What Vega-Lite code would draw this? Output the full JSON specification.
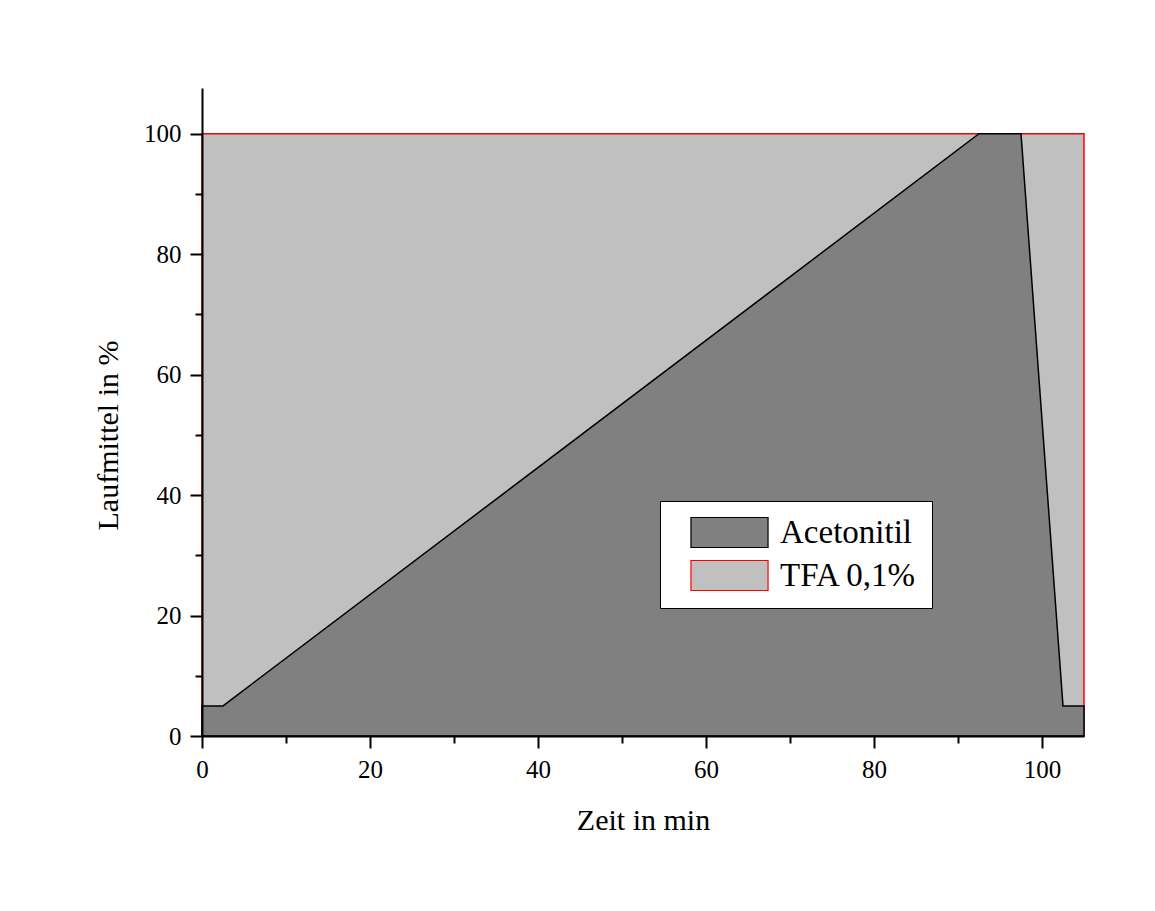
{
  "$schema": "https://vega.github.io/schema/vega-lite/v6.json",
  "autosize": {"type": "none"},
  "padding": {"left": 202, "top": 88, "right": 71, "bottom": 175},
  "width": 882,
  "height": 648,
  "background": "white",
  "config": {
    "font": "Liberation Serif",
    "view": {"stroke": null},
    "axis": {"grid": false, "domainColor": "black", "domainWidth": 2, "tickColor": "black", "tickWidth": 2, "labelColor": "black", "titleColor": "black", "labelFont": "Liberation Serif", "titleFont": "Liberation Serif", "labelFontSize": 25, "titleFontSize": 30, "titleFontWeight": "normal"}
  },
  "data": {
    "values": [
      {"t": 0, "v": 100, "series": "TFA 0,1%"},
      {"t": 105, "v": 100, "series": "TFA 0,1%"},
      {"t": 0, "v": 5, "series": "Acetonitil"},
      {"t": 2.5, "v": 5, "series": "Acetonitil"},
      {"t": 92.5, "v": 100, "series": "Acetonitil"},
      {"t": 97.5, "v": 100, "series": "Acetonitil"},
      {"t": 102.5, "v": 5, "series": "Acetonitil"},
      {"t": 105, "v": 5, "series": "Acetonitil"}
    ]
  },
  "layer": [
    {
      "transform": [{"filter": "datum.series === 'TFA 0,1%'"}],
      "mark": {"type": "area", "opacity": 1, "strokeWidth": 1.5},
      "encoding": {
        "x": {"field": "t", "type": "quantitative", "scale": {"domain": [0, 105], "nice": false, "zero": false},
          "axis": {"orient": "bottom", "values": [0, 20, 40, 60, 80, 100], "tickSize": 12, "labelPadding": 9, "labelFontSize": 25, "labelFont": "Liberation Serif", "title": "Zeit in min", "titlePadding": 23, "titleFontSize": 30, "labelFlush": false, "zindex": 2}},
        "y": {"field": "v", "type": "quantitative", "scale": {"domain": [0, 107.6], "nice": false},
          "axis": {"orient": "left", "values": [0, 20, 40, 60, 80, 100], "tickSize": 12, "labelPadding": 9, "labelFontSize": 25, "labelFont": "Liberation Serif", "title": "Laufmittel in %", "titleFontSize": 30, "titlePadding": 20, "titleY": 347, "labelFlush": false, "zindex": 2}},
        "fill": {"field": "series", "type": "nominal", "scale": {"domain": ["Acetonitil", "TFA 0,1%"], "range": ["#808080", "#c0c0c0"]},
          "legend": {"title": null, "orient": "none", "legendX": 458, "legendY": 413, "symbolType": "M-2.57,-1H2.57V1H-2.57Z", "symbolSize": 900, "symbolStrokeWidth": 1.2, "symbolOpacity": 1, "symbolOffset": 38, "labelFontSize": 33, "labelFont": "Liberation Serif", "labelColor": "black", "labelLimit": 400, "labelOffset": 34, "rowPadding": 8, "padding": 15, "strokeColor": "black", "fillColor": "white", "cornerRadius": 0}},
        "stroke": {"field": "series", "type": "nominal", "scale": {"domain": ["Acetonitil", "TFA 0,1%"], "range": ["black", "red"]},
          "legend": {"title": null, "orient": "none", "legendX": 458, "legendY": 413, "symbolType": "M-2.57,-1H2.57V1H-2.57Z", "symbolSize": 900, "symbolStrokeWidth": 1.2, "symbolOpacity": 1, "symbolOffset": 38, "labelFontSize": 33, "labelFont": "Liberation Serif", "labelColor": "black", "labelLimit": 400, "labelOffset": 34, "rowPadding": 8, "padding": 15, "strokeColor": "black", "fillColor": "white", "cornerRadius": 0}}
      }
    },
    {
      "transform": [{"filter": "datum.series === 'Acetonitil'"}],
      "mark": {"type": "area", "opacity": 1, "strokeWidth": 1.5},
      "encoding": {
        "x": {"field": "t", "type": "quantitative",
          "axis": {"orient": "bottom", "values": [10, 30, 50, 70, 90], "tickSize": 7, "labels": false, "domain": false, "title": null, "zindex": 2}},
        "y": {"field": "v", "type": "quantitative",
          "axis": {"orient": "left", "values": [10, 30, 50, 70, 90], "tickSize": 7, "labels": false, "domain": false, "title": null, "zindex": 2}},
        "fill": {"field": "series", "type": "nominal"},
        "stroke": {"field": "series", "type": "nominal"}
      }
    }
  ],
  "resolve": {"axis": {"x": "independent", "y": "independent"}}
}
